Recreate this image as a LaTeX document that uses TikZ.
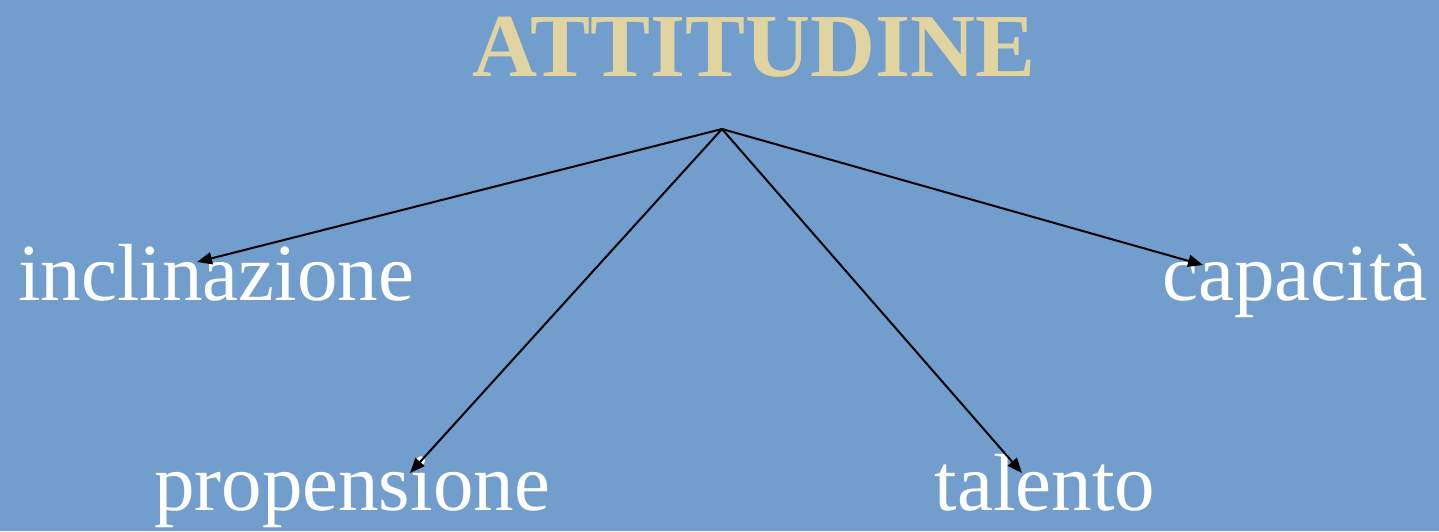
\documentclass[tikz,border=0pt]{standalone}
\usepackage{fontspec}
\setmainfont{Liberation Serif}
\usetikzlibrary{arrows.meta}
\definecolor{bgblue}{HTML}{729ECE}
\definecolor{titlegold}{HTML}{E2D4A0}
\tikzset{
  word/.style={anchor=base, text=white, inner sep=0pt, font=\fontsize{81}{88}\selectfont},
  title/.style={anchor=base, text=titlegold, inner sep=0pt, font=\fontsize{90}{97}\selectfont\bfseries},
  link/.style={draw=black, line width=2pt, -{Triangle[length=15pt,width=12pt]}}
}
\begin{document}
\begin{tikzpicture}[x=1pt,y=-1pt]
\fill[bgblue] (0,0) rectangle (1439,531);
\useasboundingbox (0,0) rectangle (1439,531);
\node[title] (t) at (754,76) {ATTITUDINE};
\node[word] (incl) at (216,300) {inclinazione};
\node[word] (cap) at (1295,300) {capacità};
\node[word] (prop) at (352,510) {propensione};
\node[word] (tal) at (1045,510) {talento};
\coordinate (apex) at (722,129);
\coordinate (e1) at (197,262);
\coordinate (e2) at (1203,265);
\coordinate (e3) at (410,473);
\coordinate (e4) at (1022,473);
\draw[link] (apex) -- (e1);
\draw[link] (apex) -- (e2);
\draw[link] (apex) -- (e3);
\draw[link] (apex) -- (e4);
\end{tikzpicture}
\end{document}
